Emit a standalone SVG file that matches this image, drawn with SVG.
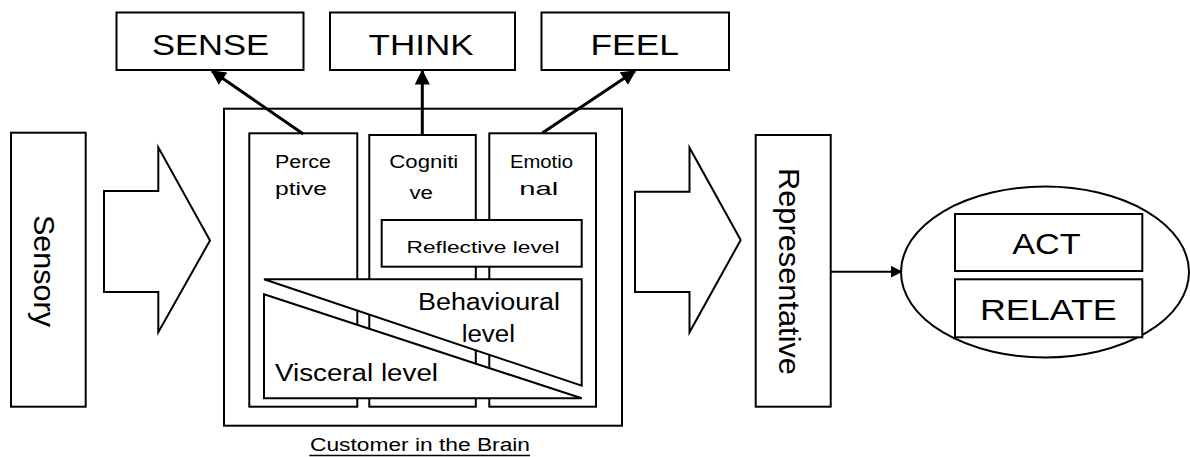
<svg xmlns="http://www.w3.org/2000/svg" width="1190" height="457" viewBox="0 0 1190 457">
<style>
.b{fill:#fff;stroke:#000;stroke-width:2}
.t{font-family:"Liberation Sans",Arial,sans-serif;fill:#000}
.c{stroke:#000;stroke-width:3;fill:none}
</style>
<defs>
<marker id="ah" viewBox="0 0 10 10" refX="9" refY="5" markerWidth="5" markerHeight="5" orient="auto" markerUnits="strokeWidth">
<path d="M0,0 L10,5 L0,10 z" fill="#000"/>
</marker>
<marker id="ah2" viewBox="0 0 10 10" refX="9" refY="5" markerWidth="6" markerHeight="6" orient="auto" markerUnits="strokeWidth">
<path d="M0,0 L10,5 L0,10 z" fill="#000"/>
</marker>
</defs>
<rect width="1190" height="457" fill="#fff"/>

<g id="sense"><rect class="b" x="116.5" y="12.5" width="187" height="57.5"/><text class="t" x="152" y="55" font-size="30" textLength="117" lengthAdjust="spacingAndGlyphs">SENSE</text></g>
<g id="think"><rect class="b" x="330" y="12.5" width="185" height="57.5"/><text class="t" x="368.5" y="55" font-size="30" textLength="105" lengthAdjust="spacingAndGlyphs">THINK</text></g>
<g id="feel"><rect class="b" x="541.5" y="12.5" width="187.5" height="57.5"/><text class="t" x="590.5" y="55" font-size="30" textLength="88.5" lengthAdjust="spacingAndGlyphs">FEEL</text></g>

<g id="sensory"><rect class="b" x="11" y="132.7" width="74.7" height="274"/><text class="t" font-size="30" transform="translate(33.5,215) rotate(90)" textLength="112" lengthAdjust="spacingAndGlyphs">Sensory</text></g>

<g id="arrow-left"><path class="b" d="M104,191 L158.3,191 L158.3,147.3 L210,240.5 L158.3,332.3 L158.3,292 L104,292 Z"/></g>

<g id="brain">
<rect class="b" x="224" y="108.7" width="398" height="317"/>
<rect class="b" x="249.3" y="133.3" width="108" height="273.4"/>
<rect class="b" x="369.3" y="135" width="106.5" height="271.7"/>
<rect class="b" x="489.3" y="133.3" width="106.7" height="273.4"/>
<text class="t" x="275" y="168.3" font-size="18" textLength="56" lengthAdjust="spacingAndGlyphs">Perce</text>
<text class="t" x="275" y="195" font-size="18" textLength="52" lengthAdjust="spacingAndGlyphs">ptive</text>
<text class="t" x="389.3" y="168.3" font-size="18" textLength="69" lengthAdjust="spacingAndGlyphs">Cogniti</text>
<text class="t" x="409.5" y="199" font-size="18" textLength="23.5" lengthAdjust="spacingAndGlyphs">ve</text>
<text class="t" x="510" y="168.3" font-size="18" textLength="63" lengthAdjust="spacingAndGlyphs">Emotio</text>
<text class="t" x="519.3" y="195" font-size="18" textLength="39" lengthAdjust="spacingAndGlyphs">nal</text>
</g>
<g id="reflective"><rect class="b" x="381.7" y="220" width="200" height="46.7"/><text class="t" x="406.5" y="252.5" font-size="17" textLength="153" lengthAdjust="spacingAndGlyphs">Reflective level</text></g>
<g id="behavioural"><path class="b" d="M264,279.3 L581.7,279.3 L581.7,385.7 Z"/><text class="t" x="418" y="310" font-size="23.5" textLength="142" lengthAdjust="spacingAndGlyphs">Behavioural</text><text class="t" x="461.7" y="341.7" font-size="23.5" textLength="53.3" lengthAdjust="spacingAndGlyphs">level</text></g>
<g id="visceral"><path class="b" d="M264,294.3 L581.7,398.3 L264,398.3 Z"/><text class="t" x="275" y="381" font-size="23.5" textLength="163" lengthAdjust="spacingAndGlyphs">Visceral level</text></g>
<g id="caption"><text class="t" x="310" y="450.5" font-size="18" textLength="220" lengthAdjust="spacingAndGlyphs">Customer in the Brain</text><line x1="309.3" y1="455.5" x2="530" y2="455.5" stroke="#000" stroke-width="1.5"/></g>

<g id="arrow-right"><path class="b" d="M635,191.7 L689.5,191.7 L689.5,147.7 L740.7,240 L689.5,332.3 L689.5,292 L635,292 Z"/></g>

<g id="representative"><rect class="b" x="755.7" y="135" width="75" height="271.7"/><text class="t" font-size="30" transform="translate(779,168) rotate(90)" textLength="207" lengthAdjust="spacingAndGlyphs">Representative</text></g>

<g id="outcome">
<ellipse class="b" cx="1045" cy="272" rx="144" ry="85.5"/>
<rect class="b" x="955" y="214" width="187.3" height="57"/>
<text class="t" x="1012.3" y="254.3" font-size="30" textLength="68.4" lengthAdjust="spacingAndGlyphs">ACT</text>
<rect class="b" x="955" y="279.3" width="187.3" height="58"/>
<text class="t" x="980" y="320" font-size="30" textLength="136.7" lengthAdjust="spacingAndGlyphs">RELATE</text>
</g>

<g id="connectors">
<line class="c" x1="303.3" y1="134" x2="212" y2="71" marker-end="url(#ah)"/>
<line class="c" x1="422.3" y1="135" x2="422.3" y2="71" marker-end="url(#ah)"/>
<line class="c" x1="542.3" y1="133" x2="635" y2="71" marker-end="url(#ah)"/>
<line stroke="#000" stroke-width="2" x1="830.7" y1="271.7" x2="901.5" y2="271.7" marker-end="url(#ah2)"/>
</g>
</svg>
